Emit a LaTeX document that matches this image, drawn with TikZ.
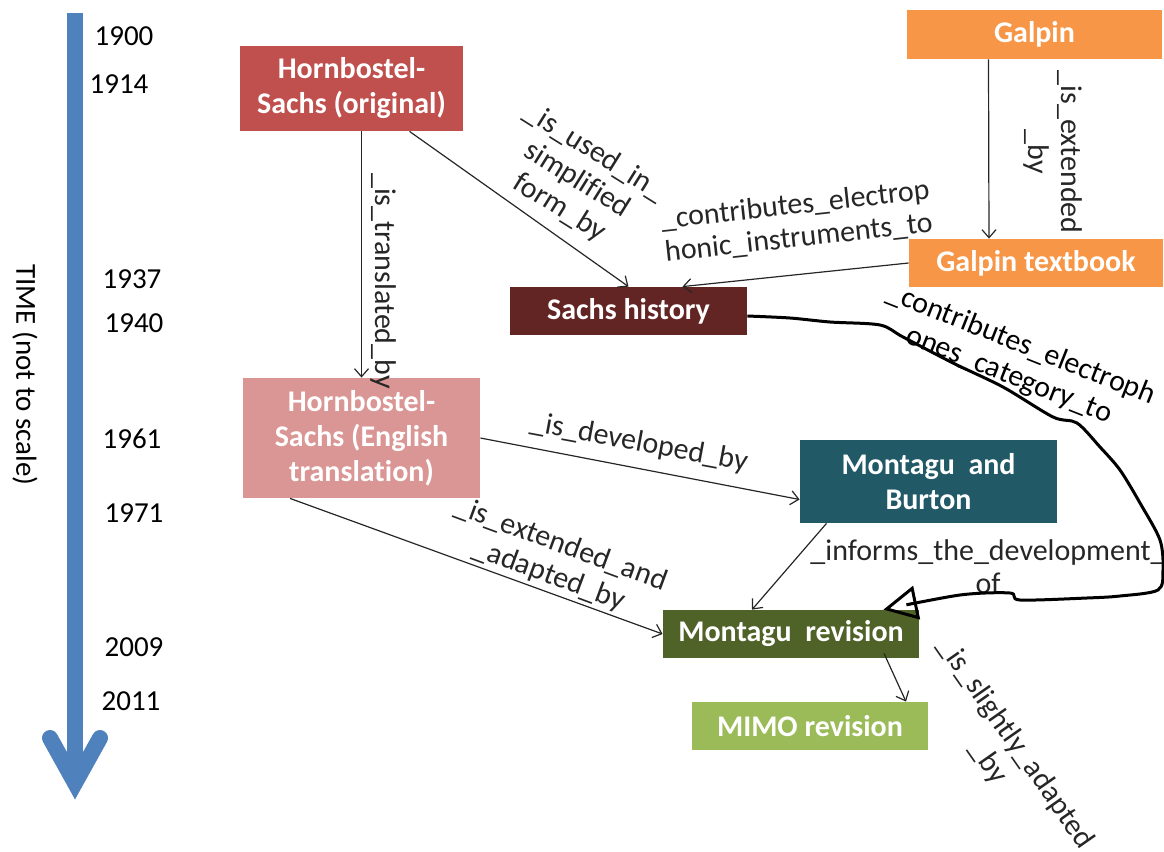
\documentclass[tikz,border=0pt]{standalone}
\usepackage{fontspec}
\setmainfont{Carlito}[Ligatures=CommonOff]
\usetikzlibrary{arrows.meta}

\definecolor{timeblue}{HTML}{4F81BD}
\definecolor{hsred}{HTML}{C0504D}
\definecolor{hspink}{HTML}{D99694}
\definecolor{sachsred}{HTML}{632523}
\definecolor{galpinorange}{HTML}{F79646}
\definecolor{mbteal}{HTML}{215967}
\definecolor{mrevgreen}{HTML}{4F6228}
\definecolor{mimogreen}{HTML}{9BBB59}

\begin{document}
\begin{tikzpicture}[x=0.5pt,y=-0.5pt,
    box/.style={fill=#1,text=white,font=\fontsize{15}{17.5}\selectfont\bfseries,align=center,inner sep=0pt},
    lbl/.style={font=\fontsize{15}{16.5}\selectfont,align=center,inner sep=0pt},
    year/.style={font=\fontsize{14.5}{17}\selectfont,inner sep=0pt},
    link/.style={line width=0.6pt,black!85,-{Straight Barb[length=4pt,width=7pt]}}]
    \useasboundingbox (0,0) rectangle (1164,852);

    \fill[timeblue] (67,13) rectangle (83,785);
    \draw[timeblue,line width=8pt,line cap=round,line join=miter] (50,738) -- (75,783) -- (100,738);
    \node[year,rotate=-90] (time) at (25,375) {TIME (not to scale)};
    \foreach \yr/\x/\y in {1900/124/36,1914/119/84,1937/132/279,1940/134/323,1961/132/439,1971/134/513,2009/134/647,2011/131/701}
        \node[year] (y\yr) at (\x,\y) {\yr};

    \node[box=hsred,minimum width=111.5pt,minimum height=42.5pt] (hsorig) at (351.5,88.5) {Hornbostel-\\Sachs (original)};
    \node[box=galpinorange,minimum width=127.5pt,minimum height=24.5pt] (galpin) at (1034.5,34.5) {\raisebox{-1pt}{Galpin}};
    \node[box=galpinorange,minimum width=127pt,minimum height=24pt] (gtext) at (1036,263) {\raisebox{-1pt}{Galpin textbook}};
    \node[box=sachsred,minimum width=118.5pt,minimum height=24pt] (sachs) at (628.5,311) {\raisebox{-1pt}{Sachs history}};
    \node[box=hspink,minimum width=118.5pt,minimum height=60pt] (hseng) at (361.5,438) {Hornbostel-\\Sachs (English\\translation)};
    \node[box=mbteal,minimum width=128.5pt,minimum height=41.5pt] (mb) at (928.5,481.5) {Montagu\ \ and\\Burton};
    \node[box=mrevgreen,minimum width=128pt,minimum height=24pt] (mrev) at (791,634) {\raisebox{-1pt}{Montagu\ \ revision}};
    \node[box=mimogreen,minimum width=118pt,minimum height=24pt] (mimo) at (810,726) {\raisebox{-1pt}{MIMO revision}};

    \draw[link] (hseng.north |- hsorig.south) -- (hseng.north)
        node[lbl,rotate=-90] at (383,281) {\_is\_translated\_by};
    \draw[link] ([xshift=29pt]hsorig.south) -- (sachs.north)
        node[lbl,rotate=-32] at (577,180) {\_is\_used\_in\_\\simplified\\form\_by};
    \draw[link] ([xshift=-23pt]galpin.south) -- ([xshift=-23.5pt]gtext.north)
        node[lbl,rotate=-90] at (1053,152) {\_is\_extended\\\_by};
    \draw[link] (gtext.west) -- ([xshift=27pt]sachs.north)
        node[lbl,rotate=6.3] at (797,222) {\_contributes\_electrop\\honic\_instruments\_to};
    \draw[link] (hseng.east) -- ([yshift=-9pt]mb.west)
        node[lbl,rotate=-10.5] at (639,443) {\_is\_developed\_by};
    \draw[link] ([xshift=-35.75pt]hseng.south) -- (mrev.west)
        node[lbl,rotate=-20.3] at (555,560) {\_is\_extended\_and\\\_adapted\_by};
    \draw[link] ([xshift=-51pt]mb.south) -- ([xshift=-19.5pt]mrev.north)
        node[lbl] at (988,567) {\_informs\_the\_development\_\\of};
    \draw[link] ([xshift=46.5pt,yshift=2.5pt]mrev.south) -- ([xshift=48pt]mimo.north)
        node[lbl,rotate=-55] at (1002,753) {\_is\_slightly\_adapted\\\_by};

    \draw[line width=1.5pt,-{Triangle[open,length=17pt,width=17pt]}] plot[smooth,tension=0.5] coordinates {([yshift=-2.5pt]sachs.east) (790,318) (830,322) (880,325) (903,337) (953,363) (1003,387) (1053,417) (1077,423) (1100,447) (1120,470) (1140,503) (1160,540) (1163,570) (1158,590) (1120,596) (1087,598) (1020,600) (1010,593) (960,595) ([xshift=-18pt]mrev.north east)}
        node[lbl,rotate=-21.6] at (1015,360) {\_contributes\_electroph\\ones\_category\_to};
\end{tikzpicture}
\end{document}
